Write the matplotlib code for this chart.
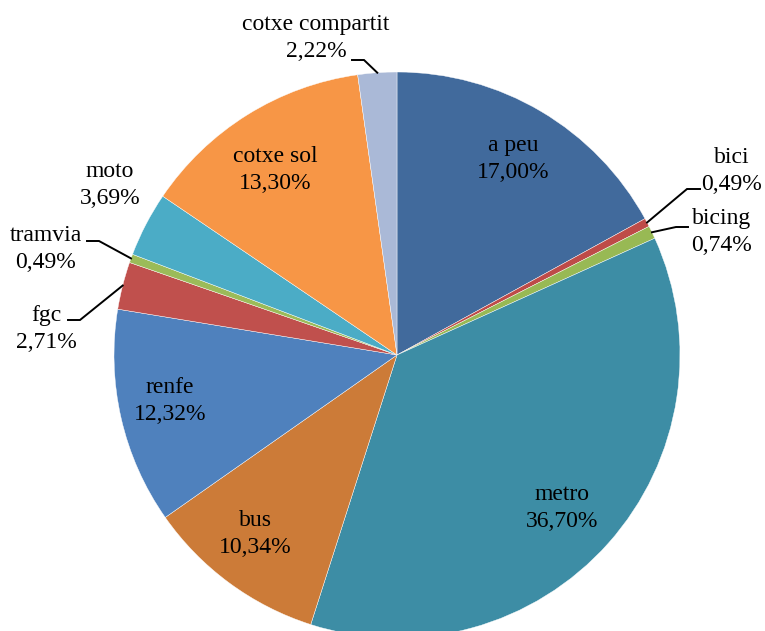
import numpy as np
import matplotlib.pyplot as plt

plt.rcParams['font.family'] = ['Liberation Serif', 'DejaVu Serif']

modes = ['a peu', 'bici', 'bicing', 'metro', 'bus', 'renfe', 'fgc',
         'tramvia', 'moto', 'cotxe sol', 'cotxe compartit']
shares = [17.00, 0.49, 0.74, 36.70, 10.34, 12.32, 2.71, 0.49, 3.69, 13.30, 2.22]
colors = ['#416A9C', '#BE4B48', '#98B954', '#3D8DA5', '#CC7B38', '#4F81BD',
          '#C0504D', '#9BBB59', '#4BACC6', '#F79646', '#AAB9D7']

# label placement in pixel coords (x, y from top)
label_pos = {
    'a peu': (513, 159), 'metro': (562, 508), 'bus': (255, 534),
    'renfe': (170, 401), 'moto': (110, 185), 'cotxe sol': (275, 170),
    'cotxe compartit': (316, 38), 'bici': (732, 171), 'bicing': (722, 232),
    'fgc': (46, 329), 'tramvia': (46, 249),
}
# leader lines: (text end, elbow)
leaders = {
    'cotxe compartit': ((352, 60), (364, 60)),
    'bici': ((700, 189), (687, 189)),
    'bicing': ((688, 227), (676, 227)),
    'tramvia': ((87, 241), (99, 241)),
    'fgc': ((68, 320), (80, 320)),
}

W, H = 765, 631
cx, cy, r = 397, H - 355, 283

fig = plt.figure(figsize=(7.65, 6.31), dpi=100)
ax = fig.add_axes([0, 0, 1, 1])
wedges, _ = ax.pie(shares, colors=colors, startangle=90, counterclock=False,
                   center=(cx, cy), radius=r, frame=True,
                   wedgeprops=dict(edgecolor='white', linewidth=0.3))
ax.set_xlim(0, W)
ax.set_ylim(0, H)
ax.set_aspect('equal')
ax.axis('off')

for w, name, val in zip(wedges, modes, shares):
    txt = f"{name}\n{val:.2f}%".replace('.', ',')
    px, py = label_pos[name]
    ax.text(px, H - py, txt, ha='center', va='center', fontsize=17,
            linespacing=1.32, multialignment='center')
    if name in leaders:
        ang = np.deg2rad((w.theta1 + w.theta2) / 2)
        ex, ey = cx + r * np.cos(ang), cy + r * np.sin(ang)
        (x0, y0), (x1, y1) = leaders[name]
        ax.plot([x0, x1, ex], [H - y0, H - y1, ey], color='black', lw=1.4,
                solid_joinstyle='miter')

fig.savefig('out.png', dpi=100)
